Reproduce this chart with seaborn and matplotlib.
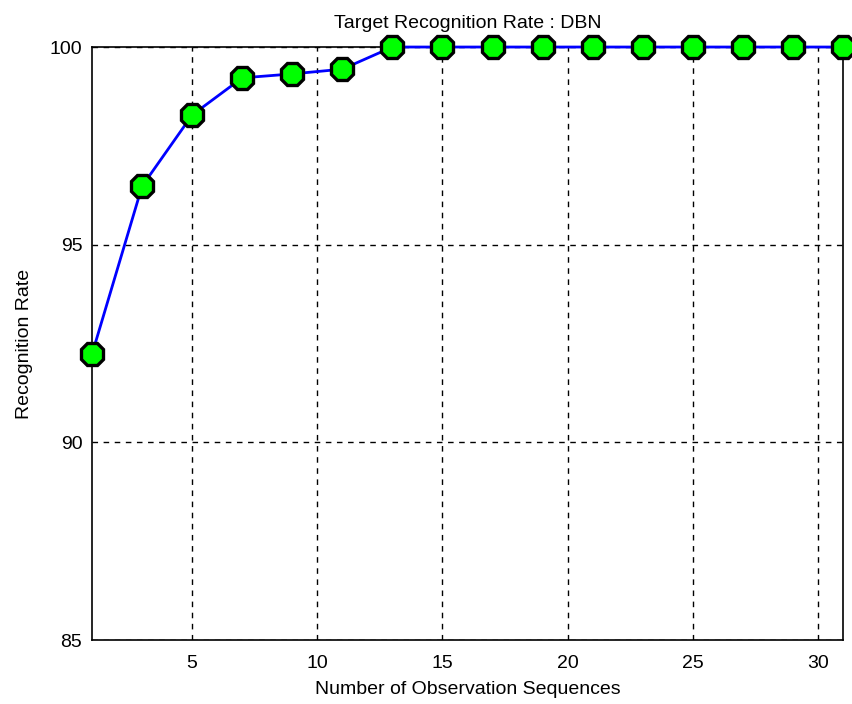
import pandas as pd
import matplotlib
matplotlib.use("Agg")
import matplotlib.pyplot as plt
import seaborn as sns

# Data
seq = [1, 3, 5, 7, 9, 11, 13, 15, 17, 19, 21, 23, 25, 27, 29, 31]
rate = [92.23, 96.48, 98.28, 99.22, 99.32, 99.44, 100, 100, 100, 100, 100, 100, 100, 100, 100, 100]
x_ticks = [5, 10, 15, 20, 25, 30]
y_ticks = [85, 90, 95, 100]

df = pd.DataFrame({"seq": seq, "rate": rate})

sns.set_style("white")
plt.rcParams["font.family"] = ["Liberation Sans", "DejaVu Sans"]
plt.rcParams["text.color"] = "black"
plt.rcParams["axes.labelcolor"] = "black"

fig = plt.figure(figsize=(8.52, 7.04), dpi=100)
ax = fig.add_axes([0.108, 0.0909, 0.8814, 0.8423])
ax.set_axisbelow(True)

sns.lineplot(data=df, x="seq", y="rate", ax=ax, color="#0000ff", linewidth=2,
             marker="8", markersize=17, markerfacecolor="#00ff00",
             markeredgecolor="black", markeredgewidth=2.4, clip_on=False, zorder=5)

ax.set_xlim(1, 31)
ax.set_ylim(85, 100)
ax.set_xticks(x_ticks)
ax.set_yticks(y_ticks)
ax.tick_params(direction="in", length=6, labelsize=14, colors="black", width=1, pad=7)
ax.tick_params(axis="x", pad=11)
ax.grid(True, color="black", linestyle=(0, (4, 4)), linewidth=1)
for s in ax.spines.values():
    s.set_color("black")
    s.set_linewidth(1.2)

ax.set_title("Target Recognition Rate : DBN", fontsize=14, pad=14, color="black")
ax.set_xlabel("Number of Observation Sequences", fontsize=14, labelpad=6)
ax.set_ylabel("Recognition Rate", fontsize=14, labelpad=12)

plt.savefig("out.png", dpi=100)
plt.close()
